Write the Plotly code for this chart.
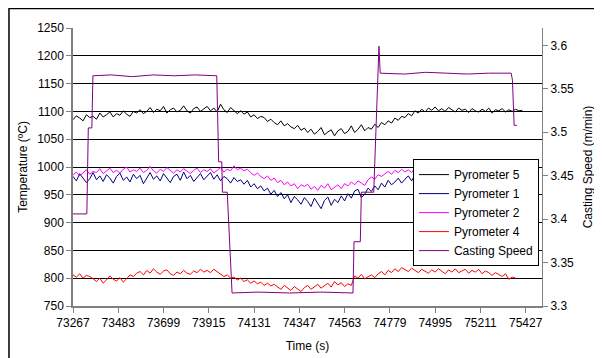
import plotly.graph_objects as go

# ---- data ----
sample_start = 73267   # s, first sample of the pyrometer logs
sample_step = 16       # s, spacing of the values listed below

pyrometer5 = [
    1085, 1092, 1088, 1083, 1094, 1089, 1091, 1086, 1097, 1090,
    1094, 1099, 1090, 1096, 1093, 1101, 1095, 1091, 1100, 1097,
    1103, 1096, 1100, 1107, 1098, 1104, 1101, 1109, 1097, 1103,
    1106, 1099, 1102, 1110, 1101, 1097, 1105, 1108, 1100, 1104,
    1109, 1101, 1106, 1099, 1113, 1103, 1098, 1107, 1102, 1096,
    1101, 1095, 1099, 1090, 1094, 1087, 1091, 1089, 1082, 1086,
    1080, 1076, 1083, 1074, 1078, 1072, 1069, 1075, 1066, 1070,
    1062, 1068, 1059, 1064, 1071, 1058, 1063, 1067, 1056, 1065,
    1069, 1060, 1064, 1074, 1062, 1068, 1076, 1065, 1071, 1068,
    1077, 1071, 1080, 1076, 1083, 1079, 1088, 1084, 1091, 1089,
    1096, 1092, 1101, 1097, 1104, 1099, 1106, 1102, 1108, 1101,
    1105, 1100, 1107, 1103, 1099, 1106, 1102, 1104, 1098, 1105,
    1101, 1099, 1104, 1100, 1106, 1097, 1103, 1101, 1105, 1099,
    1103, 1100, 1104, 1101, 1102,
]

pyrometer1 = [
    983, 975, 988, 981, 972, 979, 990, 977, 984, 974,
    986, 980, 971, 983, 989, 976, 982, 973, 987, 979,
    985, 970, 981, 990, 978, 984, 975, 988, 980, 972,
    983, 987, 976, 991, 979, 985, 974, 982, 988, 977,
    984, 990, 978, 986, 975, 983, 979, 971, 981, 974,
    977, 969, 976, 964, 970, 961, 966, 957, 962, 951,
    958, 947, 954, 943, 950, 936, 947, 941, 933, 945,
    938, 929, 944, 935, 925, 940, 946, 931, 942, 936,
    948, 939, 952, 944, 957, 960, 945, 951, 962, 956,
    966, 959, 971, 964, 976, 968, 973, 980, 971, 978,
    984, 975, 986, 990, 979, 985, 981, 989, 984, 978,
    987, 992, 983, 988, 980, 990, 986, 982, 991, 985,
    983, 989, 986, 981, 990, 984, 988, 982, 987, 985,
    989, 984, 986,
]

pyrometer2 = [
    986, 991, 984, 989, 995, 987, 992, 990, 997, 988,
    993, 998, 990, 994, 989, 996, 1000, 991, 995, 992,
    998, 990, 994, 1001, 993, 989, 996, 992, 999, 994,
    989, 995, 991, 997, 993, 988, 994, 998, 990, 995,
    992, 997, 989, 994, 999, 991, 996, 993, 1002, 995,
    998, 993, 996, 990, 985, 989, 983, 979, 984, 976,
    980, 972, 976, 968, 973, 966, 970, 961, 968, 965,
    969, 960, 965, 958, 967, 962, 970, 959, 964, 968,
    961, 970, 966, 973, 968, 975, 971, 967, 977, 982,
    978, 986, 983, 988, 992, 987, 994, 990, 996, 991,
    995, 990, 998, 993, 989, 996, 992, 999, 994, 991,
    997, 993, 995, 990, 998, 994, 992, 996, 999, 993,
    995, 991, 997, 994, 990, 996, 993, 998, 992, 995,
    997, 993, 995,
]

pyrometer4 = [
    806, 802, 808, 800, 805, 803, 799, 794, 800, 791,
    797, 804, 798, 795, 801, 793, 799, 806, 803, 809,
    812, 806, 814, 809, 817, 811, 807, 813, 815, 808,
    805, 811, 808, 814, 809, 807, 813, 810, 816, 811,
    814, 810, 816, 812, 808, 803, 806, 800, 802, 797,
    800, 794, 797, 791, 795, 790, 793, 787, 791, 786,
    789, 784, 780, 787, 782, 778, 785, 781, 776, 783,
    787, 780, 784, 789, 782, 786, 791, 784, 794, 788,
    792, 785, 790, 787, 804, 800, 807, 799, 803, 806,
    801, 808, 812, 806, 814, 810, 817, 812, 819, 815,
    812, 818, 814, 810, 816, 813, 809, 815, 811, 817,
    813, 808, 815, 811, 817, 810, 813, 816, 809, 814,
    811, 816, 808, 813, 810, 805, 810, 807, 803, 808,
    798, 802, 800,
]

speed_time = [73267, 73333, 73340, 73357, 73362, 73450, 73550, 73650, 73750, 73850,
              73953, 73962, 73977, 73980, 74003, 74013, 74026, 74150, 74300, 74450,
              74603, 74608, 74638, 74643, 74702, 74727, 74733, 74850, 74950, 75050,
              75150, 75250, 75358, 75364, 75372, 75385]
speed_value = [3.406, 3.406, 3.505, 3.505, 3.565, 3.566, 3.564, 3.566, 3.565, 3.566,
               3.565, 3.466, 3.466, 3.431, 3.431, 3.380, 3.315, 3.316, 3.315, 3.316,
               3.315, 3.374, 3.374, 3.431, 3.431, 3.599, 3.568, 3.567, 3.569, 3.568,
               3.567, 3.568, 3.568, 3.560, 3.508, 3.508]

time_ticks = [73267, 73483, 73699, 73915, 74131, 74347, 74563, 74779, 74995, 75211, 75427]
time_tick_text = ["73267", "73483", "73699", "73915", "74131", "74347", "74563",
                  "74779", "74995", "75211", "75427"]
temp_ticks = [750, 800, 850, 900, 950, 1000, 1050, 1100, 1150, 1200, 1250]
speed_ticks = [3.3, 3.35, 3.4, 3.45, 3.5, 3.55, 3.6]
speed_tick_text = ["3.3", "3.35", "3.4", "3.45", "3.5", "3.55", "3.6"]


def times(n):
    return [sample_start + sample_step * i for i in range(n)]


FONT = "Liberation Sans, Arial, sans-serif"

fig = go.Figure()
series = [
    ("Pyrometer 5", pyrometer5, "#000000"),
    ("Pyrometer 1", pyrometer1, "#000080"),
    ("Pyrometer 2", pyrometer2, "#FF00FF"),
    ("Pyrometer 4", pyrometer4, "#FF0000"),
]
for name, vals, col in series:
    fig.add_trace(go.Scatter(x=times(len(vals)), y=vals, mode="lines", name=name,
                             line=dict(color=col, width=1)))
fig.add_trace(go.Scatter(x=speed_time, y=speed_value, mode="lines", name="Casting Speed",
                         yaxis="y2", line=dict(color="#800080", width=1)))

# the page body adds an 8 px margin, so the figure is 8 px smaller each way
fig.update_layout(
    width=594, height=350, autosize=False,
    margin=dict(l=65, r=60, t=20, b=52, autoexpand=False),
    paper_bgcolor="white", plot_bgcolor="white",
    font=dict(family=FONT, size=12, color="black"),
    showlegend=True,
    legend=dict(x=0.9935, xanchor="right", y=0.5284, yanchor="top",
                bgcolor="white", bordercolor="black", borderwidth=1,
                font=dict(family=FONT, size=12, color="black"),
                tracegroupgap=0),
    xaxis=dict(range=[73267, 75505], tickvals=time_ticks, ticktext=time_tick_text,
               tickangle=0, ticks="outside", ticklen=5,
               tickcolor="#808080", showline=True, linecolor="#808080", linewidth=1.5,
               showgrid=False, zeroline=False,
               title=dict(text="Time (s)", font=dict(size=12), standoff=12),
               tickfont=dict(size=12)),
    yaxis=dict(range=[750, 1250], tickvals=temp_ticks, ticks="outside", ticklen=5,
               tickcolor="#808080", showline=True, linecolor="#808080", linewidth=1.5,
               showgrid=True, gridcolor="#000000", gridwidth=1, zeroline=False,
               title=dict(text="Temperature (ºC)", font=dict(size=12), standoff=7),
               tickfont=dict(size=12)),
    yaxis2=dict(range=[3.3, 3.62], tickvals=speed_ticks, ticktext=speed_tick_text,
                overlaying="y", side="right", ticks="outside", ticklen=5,
                tickcolor="#808080", showline=True, linecolor="#808080", linewidth=1,
                showgrid=False, zeroline=False,
                title=dict(text="Casting Speed (m/min)", font=dict(size=12), standoff=10),
                tickfont=dict(size=12)),
    shapes=[dict(type="rect", xref="paper", yref="paper",
                 x0=-0.1365, x1=1.3, y0=-0.5, y1=1.07,
                 line=dict(color="black", width=1.5), layer="above")],
)

fig.write_html("out.html")
